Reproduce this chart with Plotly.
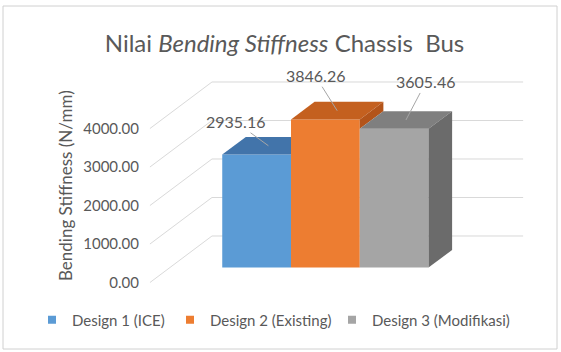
import plotly.graph_objects as go

# ---------------- data ----------------
categories = ["Design 1 (ICE)", "Design 2 (Existing)", "Design 3 (Modifikasi)"]
values = [2935.16, 3846.26, 3605.46]
value_labels = ["2935.16", "3846.26", "3605.46"]
tick_values = [0, 1000, 2000, 3000, 4000]
tick_labels = ["0.00", "1000.00", "2000.00", "3000.00", "4000.00"]

front_colors = ["#5B9BD5", "#ED7D31", "#A5A5A5"]
top_colors = ["#4274AA", "#C4601F", "#7F7F7F"]
side_colors = ["#3A6A9E", "#B3541A", "#6B6B6B"]

# label offsets (pixels) from the bar top
label_dx = [-33, -22, 20]
label_dy = [-24, -35, -38]

# legend entry text start positions (pixels)
legend_text_x = [72, 210, 372]

# ---------------- 3D geometry (data units) ----------------
FLOOR_L, FLOOR_R = -1.5, 1.5     # front floor edge
DX, DY = 0.598, 1208.0            # full depth offset of back wall
F1, DEPTH = 0.32, 0.38            # bar front depth and bar depth (fractions)
BW = 0.663                        # bar width

FONT = "Lato"
TXT = "#595959"
GRID = "#D9D9D9"

# layout pixels
W, H = 561, 352
ML, MR, MT, MB = 140, 31, 78, 58
X_RANGE = [-1.596, 2.164]
Y_RANGE = [-298.7, 5311.7]

fig = go.Figure()

n = len(values)
centers = [(i - (n - 1) / 2) * BW for i in range(n)]
ox, oy = F1 * DX, F1 * DY          # shift of bar front face
ddx, ddy = DEPTH * DX, DEPTH * DY  # bar depth vector

# front faces
for i in range(n):
    fig.add_trace(go.Bar(
        x=[centers[i] + ox], y=[values[i]], base=[oy], width=BW,
        marker=dict(color=front_colors[i], line=dict(width=0)),
        showlegend=False, hoverinfo="skip", name=categories[i]))

# top and side faces (visible parts only)
for i in range(n):
    x0 = centers[i] - BW / 2 + ox
    x1 = x0 + BW
    yb = oy
    yt = values[i] + oy
    nxt = values[i + 1] + oy if i + 1 < n else None
    # top face
    if nxt is not None and nxt >= yt + ddy:
        tx = [x0, x1, x1, x0 + ddx, x0]
        ty = [yt, yt, yt + ddy, yt + ddy, yt]
    else:
        tx = [x0, x1, x1 + ddx, x0 + ddx, x0]
        ty = [yt, yt, yt + ddy, yt + ddy, yt]
    fig.add_trace(go.Scatter(x=tx, y=ty, fill="toself", mode="lines",
                             line=dict(width=0), fillcolor=top_colors[i],
                             showlegend=False, hoverinfo="skip"))
    # side face
    if nxt is None:
        sx = [x1, x1, x1 + ddx, x1 + ddx, x1]
        sy = [yb, yt, yt + ddy, yb + ddy, yb]
    elif yt > nxt:
        sx = [x1, x1, x1 + ddx, x1 + ddx, x1]
        sy = [nxt, yt, yt + ddy, nxt + ddy, nxt]
    else:
        sx, sy = None, None
    if sx is not None:
        fig.add_trace(go.Scatter(x=sx, y=sy, fill="toself", mode="lines",
                                 line=dict(width=0), fillcolor=side_colors[i],
                                 showlegend=False, hoverinfo="skip"))

# chart border helpers
pw, ph = W - ML - MR, H - MT - MB
def px_x(p):
    return (p - ML) / pw
def px_y(p):
    return (H - MB - p) / ph

# legend entries (one legend box per entry for Excel-like spacing)
legend_names = ["legend", "legend2", "legend3"]
legend_layouts = {}
for i in range(n):
    fig.add_trace(go.Scatter(x=[None], y=[None], mode="markers",
                             marker=dict(symbol="square", size=8, color=front_colors[i]),
                             name=categories[i], legend=legend_names[i]))
    legend_layouts[legend_names[i]] = dict(
        orientation="h", xref="container", yref="container",
        x=(legend_text_x[i] - 40) / W, xanchor="left",
        y=1 - 320 / H, yanchor="middle",
        font=dict(family=FONT, size=15, color=TXT),
        itemwidth=30, bgcolor="rgba(0,0,0,0)")

# gridlines on side wall and back wall
shapes = []
for v in tick_values:
    shapes.append(dict(type="line", xref="x", yref="y", layer="below",
                       x0=FLOOR_L, y0=v, x1=FLOOR_L + DX, y1=v + DY,
                       line=dict(color=GRID, width=1)))
    shapes.append(dict(type="line", xref="x", yref="y", layer="below",
                       x0=FLOOR_L + DX, y0=v + DY, x1=FLOOR_R + DX, y1=v + DY,
                       line=dict(color=GRID, width=1)))

shapes.append(dict(type="rect", xref="paper", yref="paper", layer="below",
                   x0=px_x(3), x1=px_x(557), y0=px_y(349), y1=px_y(6),
                   line=dict(color="#D0D0D0", width=1), fillcolor="rgba(0,0,0,0)"))

# data labels with leader lines
annotations = []
for i in range(n):
    annotations.append(dict(
        x=centers[i] + ox + ddx / 2, y=values[i] + oy + ddy / 2,
        xref="x", yref="y", text=value_labels[i],
        showarrow=True, arrowhead=0, arrowwidth=1, arrowcolor="#A6A6A6",
        ax=label_dx[i], ay=label_dy[i], standoff=0, startstandoff=0,
        font=dict(family=FONT, size=16, color=TXT)))

# y axis title
annotations.append(dict(
    text="Bending Stiffness (N/mm)", textangle=-90,
    xref="paper", yref="paper", x=px_x(65), y=px_y(186),
    xanchor="center", yanchor="middle", showarrow=False,
    font=dict(family=FONT, size=17, color=TXT)))

fig.update_layout(
    width=W, height=H,
    margin=dict(l=ML, r=MR, t=MT, b=MB, autoexpand=False),
    paper_bgcolor="white", plot_bgcolor="rgba(0,0,0,0)",
    barmode="overlay",
    title=dict(text="Nilai <i>Bending Stiffness</i> Chassis\u00a0 Bus",
               x=284.5 / W, xref="container", xanchor="center",
               y=1 - 44 / H, yref="container", yanchor="middle",
               font=dict(family=FONT, size=24, color=TXT)),
    xaxis=dict(range=X_RANGE, visible=False, fixedrange=True),
    yaxis=dict(range=Y_RANGE, tickvals=tick_values, ticktext=tick_labels,
               showgrid=False, zeroline=False, showline=False, ticks="",
               tickfont=dict(family=FONT, size=15, color=TXT), fixedrange=True),
    shapes=shapes, annotations=annotations,
    showlegend=True,
    **legend_layouts,
)

fig.write_html("out.html")
